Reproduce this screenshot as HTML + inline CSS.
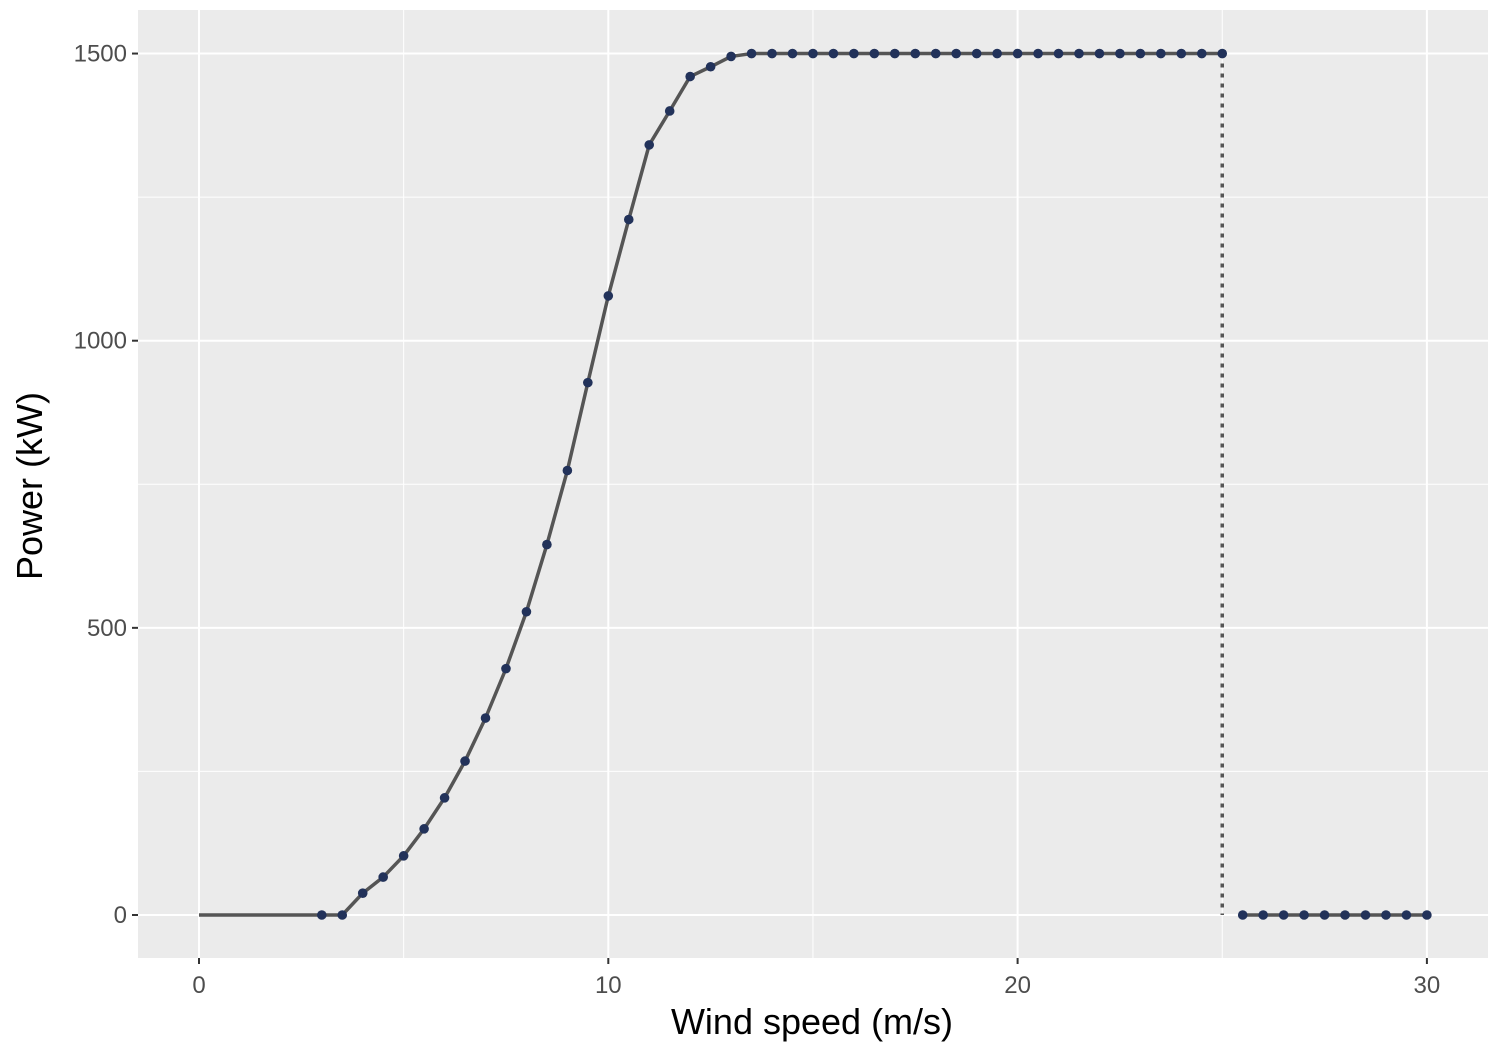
<!DOCTYPE html>
<html><head><meta charset="utf-8"><style>
body{margin:0;background:#fff;}
svg{display:block;font-family:"Liberation Sans",sans-serif;}
</style></head><body>
<svg id="chart" width="1500" height="1050">
<rect x="138" y="10" width="1350" height="948" fill="#ebebeb"/>
<g id="grid"></g><g id="series"></g><g id="axes"></g>
<text x="812" y="1034" font-size="36" text-anchor="middle" fill="#000">Wind speed (m/s)</text>
<text transform="translate(42,486) rotate(-90)" font-size="36" text-anchor="middle" fill="#000">Power (kW)</text>
</svg>
<script>
const speeds=[3,3.5,4,4.5,5,5.5,6,6.5,7,7.5,8,8.5,9,9.5,10,10.5,11,11.5,12,12.5,13,13.5,14,14.5,15,15.5,16,16.5,17,17.5,18,18.5,19,19.5,20,20.5,21,21.5,22,22.5,23,23.5,24,24.5,25];
const power=[0,0,38,66,103,150,204,268,343,429,528,645,774,927,1078,1211,1341,1400,1460,1477,1495,1500,1500,1500,1500,1500,1500,1500,1500,1500,1500,1500,1500,1500,1500,1500,1500,1500,1500,1500,1500,1500,1500,1500,1500];
const cutoutSpeeds=[25.5,26,26.5,27,27.5,28,28.5,29,29.5,30];
const cutoutPower=[0,0,0,0,0,0,0,0,0,0];
const xTicks=[0,10,20,30];
const yTicks=[0,500,1000,1500];
const xMinor=[5,15,25];
const yMinor=[250,750,1250];
const NS="http://www.w3.org/2000/svg";
const sx=v=>199+v*40.93;
const sy=v=>915-v*0.5743;
function mk(tag,attrs,parent){const e=document.createElementNS(NS,tag);for(const k in attrs)e.setAttribute(k,attrs[k]);parent.appendChild(e);return e;}
const grid=document.getElementById('grid'),series=document.getElementById('series'),axes=document.getElementById('axes');
xMinor.forEach(v=>{const l=mk('line',{x1:sx(v),x2:sx(v),y1:10,y2:958,stroke:'#fff','stroke-width':1},grid);

});
yMinor.forEach(v=>{const l=mk('line',{x1:138,x2:1488,y1:sy(v),y2:sy(v),stroke:'#fff','stroke-width':1},grid);

});
xTicks.forEach(v=>{const l=mk('line',{x1:sx(v),x2:sx(v),y1:10,y2:958,stroke:'#fff','stroke-width':2},grid);


const t=mk('line',{x1:sx(v),x2:sx(v),y1:958,y2:964,stroke:'#333','stroke-width':2},axes);


const tx=mk('text',{x:sx(v),y:993,'font-size':24,fill:'#4d4d4d','text-anchor':'middle'},axes);tx.textContent=v;

});
yTicks.forEach(v=>{const l=mk('line',{x1:138,x2:1488,y1:sy(v),y2:sy(v),stroke:'#fff','stroke-width':2},grid);


const t=mk('line',{x1:132,x2:138,y1:sy(v),y2:sy(v),stroke:'#333','stroke-width':2},axes);


const tx=mk('text',{x:127,y:sy(v)+8,'font-size':24,fill:'#4d4d4d','text-anchor':'end'},axes);tx.textContent=v;

});
let d='M'+sx(0)+','+sy(0);speeds.forEach((s,i)=>d+=' L'+sx(s)+','+sy(power[i]));
const p1=mk('path',{d:d,fill:'none',stroke:'#555','stroke-width':3.5,'stroke-linejoin':'round'},series);


const last=speeds.length-1;
const dl=mk('line',{x1:sx(speeds[last]),x2:sx(speeds[last]),y1:sy(power[last]),y2:sy(0),stroke:'#555','stroke-width':3.5,'stroke-dasharray':'4,6'},series);


let d2='';cutoutSpeeds.forEach((s,i)=>d2+=(i?' L':'M')+sx(s)+','+sy(cutoutPower[i]));
const p2=mk('path',{d:d2,fill:'none',stroke:'#555','stroke-width':3.5},series);


speeds.concat(cutoutSpeeds).forEach((s,i)=>{const v=i<speeds.length?power[i]:cutoutPower[i-speeds.length];
const c=mk('circle',{cx:sx(s),cy:sy(v),r:4.8,fill:'#22325a'},series);

});
</script>
</body></html>
